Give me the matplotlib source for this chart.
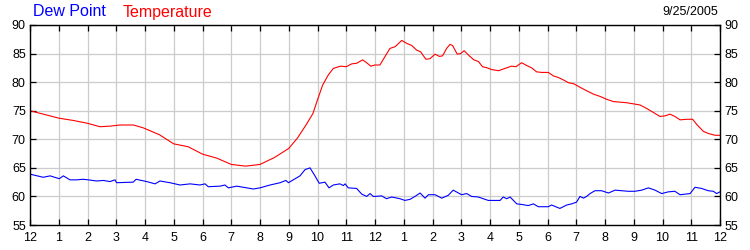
import numpy as np
import matplotlib.pyplot as plt

plt.rcParams['font.family'] = ['Liberation Sans', 'DejaVu Sans']

# 温度数据 (小时, 华氏度)
temp_hours = [0, 1.0, 1.5, 2.0, 2.43, 2.78, 3.13, 3.6, 3.94, 4.5, 5.0, 5.5, 6.0, 6.5, 7.0, 7.5,
              8.0, 8.5, 9.0, 9.3, 9.6, 9.84, 10.0, 10.18, 10.38, 10.55, 10.8, 11.0, 11.19,
              11.36, 11.57, 11.71, 11.85, 12.0, 12.17, 12.35, 12.52, 12.7, 12.93, 13.1, 13.28,
              13.45, 13.59, 13.77, 13.91, 14.09, 14.24, 14.35, 14.49, 14.61, 14.7, 14.86,
              14.98, 15.1, 15.28, 15.44, 15.6, 15.74, 15.9, 16.06, 16.3, 16.52, 16.75, 16.9,
              17.1, 17.28, 17.45, 17.62, 17.8, 18.03, 18.2, 18.38, 18.55, 18.73, 18.92, 19.13,
              19.36, 19.6, 19.83, 20.06, 20.29, 20.52, 20.75, 20.99, 21.22, 21.45, 21.68,
              21.91, 22.09, 22.26, 22.43, 22.61, 22.84, 23.05, 23.19, 23.42, 23.6, 23.83, 24.0]
temp_values = [75.0, 73.7, 73.3, 72.8, 72.2, 72.3, 72.5, 72.5, 72.0, 70.8, 69.2, 68.7, 67.4, 66.7,
               65.6, 65.3, 65.6, 66.8, 68.4, 70.2, 72.5, 74.5, 76.9, 79.5, 81.3, 82.4, 82.8,
               82.7, 83.2, 83.3, 83.9, 83.4, 82.8, 83.0, 83.0, 84.5, 85.9, 86.2, 87.3, 86.8,
               86.4, 85.6, 85.3, 84.0, 84.1, 84.9, 84.5, 84.6, 85.9, 86.6, 86.4, 84.9, 85.0,
               85.5, 84.6, 83.9, 83.6, 82.7, 82.5, 82.2, 82.0, 82.4, 82.8, 82.7, 83.4, 82.9,
               82.5, 81.8, 81.7, 81.7, 81.1, 80.8, 80.4, 79.9, 79.7, 79.1, 78.5, 77.9, 77.5,
               77.0, 76.6, 76.5, 76.4, 76.2, 76.0, 75.4, 74.7, 74.0, 74.1, 74.4, 74.0, 73.4,
               73.5, 73.5, 72.6, 71.4, 71.0, 70.7, 70.7]

# 露点数据
dew_hours = [0, 0.46, 0.7, 1.02, 1.16, 1.39, 1.62, 1.85, 2.03, 2.32, 2.55, 2.78, 2.96, 3.01, 3.59,
             3.69, 4.06, 4.35, 4.52, 4.87, 5.22, 5.57, 5.91, 6.09, 6.2, 6.61, 6.78, 6.9, 7.19,
             7.54, 7.77, 8.0, 8.35, 8.7, 8.9, 8.99, 9.39, 9.57, 9.74, 9.91, 10.06, 10.26, 10.4,
             10.55, 10.78, 10.9, 10.96, 11.07, 11.36, 11.54, 11.71, 11.83, 11.94, 12.0, 12.23,
             12.4, 12.58, 12.87, 13.04, 13.22, 13.39, 13.57, 13.74, 13.86, 14.09, 14.32, 14.55,
             14.72, 15.01, 15.19, 15.36, 15.59, 15.94, 16.35, 16.46, 16.58, 16.7, 16.93, 17.1,
             17.33, 17.51, 17.68, 18.03, 18.14, 18.43, 18.67, 18.84, 19.01, 19.13, 19.25, 19.36,
             19.48, 19.65, 19.88, 20.12, 20.35, 20.81, 21.04, 21.28, 21.51, 21.74, 21.97, 22.2,
             22.43, 22.61, 22.96, 23.13, 23.36, 23.59, 23.77, 23.88, 24.0]
dew_values = [63.9, 63.35, 63.6, 63.1, 63.6, 62.9, 62.9, 63.0, 62.9, 62.7, 62.8, 62.6, 62.9, 62.4,
              62.5, 63.0, 62.6, 62.2, 62.7, 62.4, 62.0, 62.2, 62.0, 62.2, 61.7, 61.8, 62.0, 61.5,
              61.8, 61.5, 61.3, 61.5, 62.0, 62.4, 62.8, 62.4, 63.6, 64.7, 65.0, 63.6, 62.3, 62.5,
              61.5, 62.0, 62.2, 61.9, 62.2, 61.5, 61.4, 60.4, 60.0, 60.5, 60.0, 60.0, 60.1, 59.6,
              59.9, 59.6, 59.3, 59.5, 60.0, 60.6, 59.7, 60.3, 60.3, 59.7, 60.2, 61.1, 60.3, 60.5,
              60.0, 59.9, 59.3, 59.3, 59.9, 59.6, 59.9, 58.7, 58.6, 58.4, 58.7, 58.2, 58.2, 58.5,
              57.9, 58.5, 58.7, 59.0, 60.0, 59.7, 60.0, 60.5, 61.0, 61.0, 60.6, 61.1, 60.9, 60.9,
              61.1, 61.5, 61.1, 60.5, 60.8, 60.9, 60.3, 60.5, 61.6, 61.4, 61.0, 60.9, 60.5, 60.8]

hour_labels = ['12', '1', '2', '3', '4', '5', '6', '7', '8', '9', '10', '11',
               '12', '1', '2', '3', '4', '5', '6', '7', '8', '9', '10', '11', '12']
y_ticks = [55, 60, 65, 70, 75, 80, 85, 90]

fig = plt.figure(figsize=(7.5, 2.5), dpi=100)
ax = fig.add_axes([0.04, 0.1, 0.92, 0.8])

ax.plot(temp_hours, temp_values, color='#ff0000', lw=0.8)
ax.plot(dew_hours, dew_values, color='#0000ff', lw=0.8)

# 坐标轴
ax.set_xlim(0, 24)
ax.set_ylim(55, 90)
ax.set_xticks(np.arange(25))
ax.set_xticklabels(hour_labels)
ax.set_yticks(y_ticks)
ax.grid(True, color='#cccccc', lw=0.9)
ax.set_axisbelow(True)
ax.tick_params(axis='both', direction='in', length=4, width=0.9, labelsize=9,
               top=True, right=True, labelright=True, pad=3)
ax.tick_params(axis='x', pad=5)
for s in ax.spines.values():
    s.set_linewidth(1.0)

# 标题
fig.text(33 / 750, 1 - 12 / 250, 'Dew Point', color='#0000ff', fontsize=11.5, va='center')
fig.text(123 / 750, 1 - 12 / 250, 'Temperature', color='#ff0000', fontsize=11.5, va='center')
fig.text(718 / 750, 1 - 12 / 250, '9/25/2005', color='black', fontsize=9, va='center', ha='right')

plt.savefig('out.png', dpi=100)
